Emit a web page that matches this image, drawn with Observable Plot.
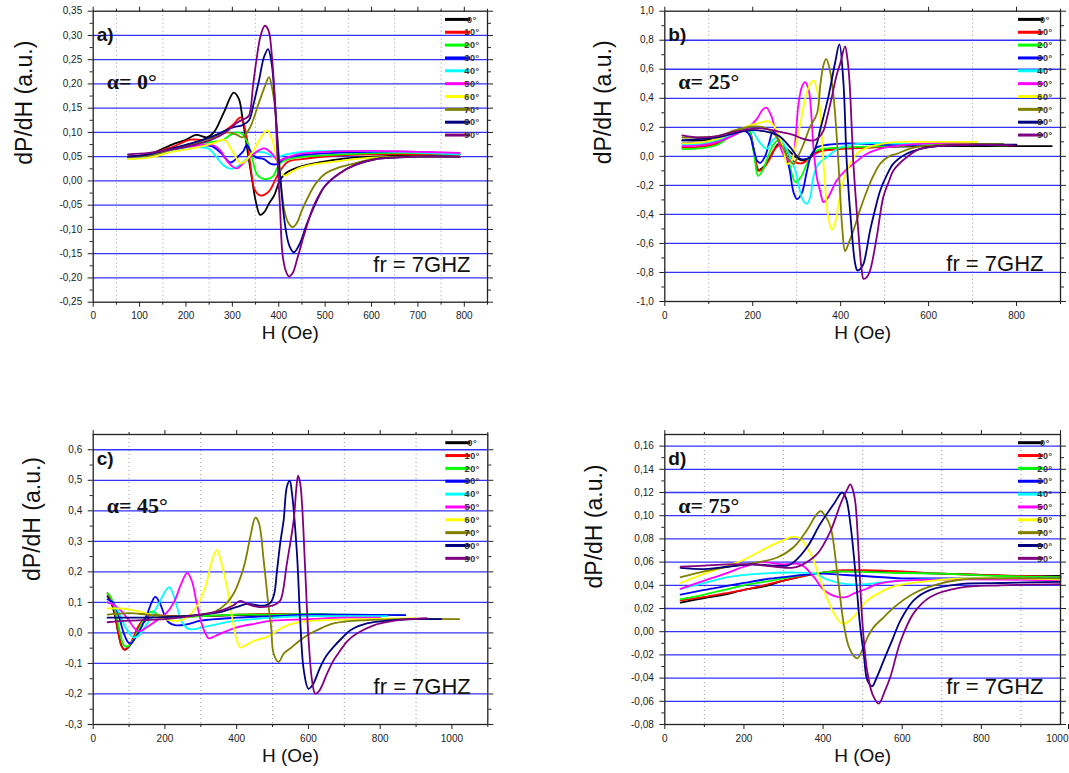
<!DOCTYPE html>
<html><head><meta charset="utf-8">
<script src="https://cdn.jsdelivr.net/npm/d3@7"></script>
<script src="https://cdn.jsdelivr.net/npm/@observablehq/plot@0.6"></script>
<style>
body{margin:0;background:#fff;}
#wrap{position:relative;width:1069px;height:773px;overflow:hidden;background:#fff;}
.panel{position:absolute;}
</style></head><body><div id="wrap"></div>
<script>
// ---------- series labels & colours ----------
const angles = [0,10,20,30,40,50,60,70,80,90];
const colors = ["#000000","#ff0000","#00ff00","#0000ff","#00ffff","#ff00ff","#ffff00","#808000","#000080","#800080"];

// ---------- panel a) alpha = 0 ----------
const a_0 = [[75,0.05],[120,0.055],[170,0.075],[200,0.085],[222,0.095],[245,0.09],[260,0.1],[282,0.142],[303,0.182],[314,0.169],[321,0.135],[332,0.066],[343,0.0],[350,-0.04],[360,-0.07],[368,-0.065],[380,-0.045],[390,-0.03],[404,0.004],[418,0.018],[433,0.025],[460,0.033],[490,0.039],[540,0.046],[600,0.05],[700,0.052],[790,0.05]];
const a_10 = [[75,0.05],[120,0.055],[170,0.07],[210,0.085],[240,0.085],[270,0.095],[300,0.115],[318,0.131],[329,0.1],[339,0.032],[347,-0.016],[356,-0.028],[365,-0.03],[375,-0.025],[383,-0.016],[397,0.011],[419,0.039],[450,0.045],[520,0.052],[600,0.055],[700,0.055],[790,0.055]];
const a_20 = [[75,0.045],[120,0.05],[170,0.065],[210,0.075],[250,0.08],[280,0.085],[296,0.095],[310,0.1],[321,0.097],[332,0.08],[342,0.05],[352,0.015],[362,0.006],[375,0.004],[388,0.01],[396,0.025],[406,0.039],[430,0.047],[480,0.052],[560,0.056],[650,0.058],[790,0.055]];
const a_30 = [[75,0.05],[120,0.052],[170,0.065],[220,0.072],[255,0.072],[275,0.058],[296,0.038],[314,0.052],[324,0.062],[331,0.075],[340,0.06],[350,0.049],[368,0.045],[383,0.035],[397,0.035],[410,0.045],[440,0.052],[500,0.057],[600,0.06],[700,0.06],[790,0.055]];
const a_40 = [[75,0.045],[120,0.05],[170,0.063],[220,0.07],[250,0.066],[265,0.05],[280,0.033],[297,0.025],[312,0.03],[330,0.045],[348,0.058],[368,0.059],[385,0.052],[397,0.049],[412,0.054],[450,0.06],[550,0.062],[650,0.06],[790,0.055]];
const a_50 = [[75,0.05],[120,0.052],[170,0.065],[220,0.072],[255,0.075],[272,0.065],[288,0.042],[300,0.03],[310,0.026],[325,0.038],[345,0.055],[368,0.067],[385,0.057],[398,0.042],[412,0.046],[440,0.055],[500,0.06],[600,0.062],[700,0.06],[790,0.058]];
const a_60 = [[75,0.045],[120,0.048],[170,0.06],[224,0.069],[260,0.078],[282,0.085],[298,0.065],[310,0.045],[318,0.036],[332,0.045],[350,0.07],[362,0.09],[375,0.104],[386,0.085],[394,0.055],[401,0.028],[411,0.011],[430,0.02],[448,0.028],[480,0.035],[520,0.04],[600,0.048],[700,0.05],[790,0.05]];
const a_70 = [[75,0.05],[120,0.052],[170,0.065],[220,0.078],[260,0.09],[290,0.1],[310,0.095],[322,0.09],[338,0.11],[355,0.155],[370,0.195],[379,0.214],[386,0.19],[392,0.15],[398,0.08],[404,0.0],[412,-0.06],[420,-0.085],[430,-0.095],[440,-0.085],[450,-0.06],[465,-0.03],[480,-0.005],[500,0.015],[530,0.028],[560,0.035],[600,0.045],[650,0.05],[790,0.05]];
const a_80 = [[75,0.05],[120,0.055],[170,0.067],[220,0.08],[260,0.093],[300,0.11],[322,0.115],[336,0.125],[346,0.16],[358,0.21],[368,0.255],[377,0.272],[385,0.24],[392,0.16],[398,0.07],[404,0.0],[412,-0.08],[420,-0.125],[427,-0.142],[433,-0.147],[445,-0.13],[460,-0.09],[480,-0.045],[500,-0.01],[530,0.015],[565,0.033],[610,0.045],[700,0.05],[790,0.05]];
const a_90 = [[75,0.055],[120,0.058],[170,0.065],[220,0.075],[255,0.085],[285,0.1],[310,0.12],[330,0.13],[336,0.135],[345,0.2],[352,0.25],[361,0.3],[370,0.32],[378,0.31],[385,0.26],[393,0.14],[398,0.03],[403,-0.06],[408,-0.15],[415,-0.185],[422,-0.197],[430,-0.19],[440,-0.16],[455,-0.11],[476,-0.05],[500,-0.01],[530,0.015],[565,0.033],[610,0.045],[700,0.05],[790,0.05]];

// ---------- panel b) alpha = 25 ----------
const b_0 = [[40,0.11],[80,0.11],[120,0.12],[150,0.15],[175,0.18],[192,0.17],[200,0.08],[206,-0.02],[211,-0.095],[222,-0.08],[235,-0.03],[248,0.04],[258,0.085],[270,0.07],[285,0.03],[300,-0.01],[316,-0.03],[332,0.0],[350,0.035],[380,0.05],[430,0.06],[500,0.065],[600,0.07],[700,0.07],[800,0.07],[880,0.07]];
const b_10 = [[40,0.06],[80,0.065],[120,0.09],[150,0.14],[180,0.18],[193,0.17],[202,0.05],[209,-0.06],[214,-0.1],[225,-0.08],[238,-0.02],[250,0.05],[262,0.08],[275,0.05],[288,-0.02],[300,-0.045],[315,-0.045],[330,-0.01],[350,0.03],[380,0.045],[430,0.055],[500,0.065],[600,0.08],[700,0.08],[800,0.075]];
const b_20 = [[40,0.05],[80,0.055],[120,0.08],[150,0.14],[180,0.19],[193,0.17],[200,0.07],[206,-0.05],[212,-0.135],[222,-0.1],[235,0.0],[247,0.08],[258,0.11],[270,0.07],[283,-0.05],[297,-0.178],[310,-0.14],[322,-0.06],[335,0.02],[350,0.045],[400,0.06],[500,0.07],[600,0.08],[700,0.08],[780,0.075]];
const b_30 = [[40,0.09],[80,0.095],[120,0.11],[150,0.15],[175,0.18],[192,0.15],[202,0.05],[210,-0.03],[217,-0.045],[228,0.0],[238,0.1],[246,0.17],[256,0.14],[270,0.06],[283,-0.08],[293,-0.25],[301,-0.295],[312,-0.25],[322,-0.12],[332,0.0],[345,0.06],[370,0.08],[420,0.09],[500,0.08],[600,0.08],[760,0.08]];
const b_40 = [[40,0.08],[80,0.085],[120,0.11],[160,0.16],[185,0.19],[200,0.17],[215,0.1],[232,0.052],[248,0.12],[260,0.13],[272,0.08],[285,0.0],[297,-0.1],[306,-0.22],[314,-0.3],[323,-0.327],[331,-0.28],[338,-0.14],[350,-0.05],[369,-0.005],[399,0.063],[450,0.09],[550,0.085],[700,0.08]];
const b_50 = [[40,0.07],[80,0.075],[120,0.1],[160,0.15],[190,0.2],[210,0.26],[222,0.32],[231,0.335],[242,0.28],[252,0.17],[262,0.07],[272,0.0],[284,-0.035],[292,0.0],[297,0.109],[304,0.36],[312,0.48],[319,0.511],[327,0.46],[333,0.3],[338,0.063],[346,-0.15],[353,-0.235],[361,-0.316],[372,-0.28],[391,-0.166],[410,-0.1],[429,-0.052],[460,0.018],[500,0.06],[600,0.09],[700,0.09]];
const b_60 = [[40,0.09],[80,0.095],[120,0.12],[160,0.17],[190,0.21],[215,0.23],[234,0.242],[248,0.21],[260,0.14],[270,0.05],[278,-0.052],[288,-0.03],[298,0.08],[308,0.22],[318,0.38],[328,0.48],[338,0.523],[346,0.46],[352,0.35],[361,-0.05],[372,-0.42],[380,-0.506],[388,-0.45],[395,-0.33],[405,-0.18],[414,-0.1],[425,-0.03],[437,0.02],[460,0.06],[500,0.09],[540,0.1],[600,0.1],[710,0.1]];
const b_70 = [[40,0.13],[80,0.13],[120,0.14],[160,0.18],[195,0.205],[225,0.2],[250,0.15],[268,0.06],[282,-0.02],[293,-0.052],[303,0.0],[315,0.08],[330,0.2],[346,0.293],[354,0.5],[361,0.63],[367,0.672],[375,0.6],[384,0.408],[395,-0.05],[404,-0.51],[410,-0.653],[418,-0.6],[429,-0.51],[445,-0.36],[460,-0.235],[475,-0.13],[490,-0.05],[510,0.0],[528,0.018],[560,0.055],[600,0.075],[700,0.085],[770,0.085]];
const b_80 = [[40,0.11],[80,0.12],[120,0.13],[160,0.16],[195,0.18],[230,0.17],[260,0.14],[285,0.063],[308,-0.017],[331,-0.006],[345,0.08],[353,0.178],[372,0.41],[387,0.64],[397,0.771],[406,0.52],[414,-0.05],[425,-0.51],[433,-0.74],[438,-0.786],[445,-0.775],[452,-0.74],[467,-0.51],[478,-0.37],[490,-0.235],[505,-0.13],[520,-0.05],[550,0.018],[580,0.05],[620,0.07],[700,0.08],[800,0.08]];
const b_90 = [[40,0.145],[80,0.13],[120,0.14],[160,0.17],[200,0.19],[230,0.19],[260,0.17],[290,0.15],[315,0.12],[338,0.109],[350,0.13],[361,0.178],[370,0.28],[380,0.41],[390,0.55],[399,0.64],[410,0.757],[415,0.68],[420,0.52],[429,-0.05],[440,-0.51],[448,-0.786],[452,-0.844],[460,-0.83],[467,-0.786],[482,-0.557],[497,-0.28],[510,-0.17],[520,-0.097],[550,-0.006],[580,0.052],[620,0.07],[700,0.08],[790,0.075]];

// ---------- panel c) alpha = 45 ----------
const c_0 = [[40,0.12],[50,0.1],[60,0.06],[70,0.0],[80,-0.045],[88,-0.055],[100,-0.045],[112,-0.02],[125,0.01],[140,0.035],[160,0.05],[200,0.055],[300,0.055],[400,0.058],[500,0.06],[600,0.06],[700,0.058],[800,0.056]];
const c_10 = [[40,0.13],[50,0.11],[60,0.07],[70,0.0],[78,-0.04],[86,-0.055],[98,-0.045],[110,-0.02],[125,0.02],[145,0.05],[170,0.06],[200,0.055],[300,0.055],[400,0.06],[500,0.062],[600,0.06],[700,0.058],[800,0.055]];
const c_20 = [[40,0.13],[50,0.115],[62,0.07],[75,0.0],[85,-0.04],[95,-0.045],[108,-0.03],[122,0.0],[140,0.04],[155,0.065],[168,0.07],[185,0.055],[220,0.05],[300,0.055],[400,0.06],[500,0.06],[600,0.062],[700,0.06],[870,0.058]];
const c_30 = [[40,0.11],[55,0.1],[70,0.06],[85,0.0],[97,-0.03],[105,-0.035],[118,-0.015],[135,0.02],[150,0.06],[163,0.1],[173,0.118],[185,0.1],[198,0.06],[210,0.035],[230,0.025],[260,0.028],[300,0.04],[400,0.05],[500,0.055],[600,0.06],[700,0.06],[870,0.058]];
const c_40 = [[40,0.1],[55,0.095],[70,0.07],[85,0.03],[100,0.0],[112,-0.015],[125,-0.01],[145,0.02],[165,0.06],[185,0.1],[200,0.135],[212,0.15],[222,0.13],[235,0.08],[248,0.035],[262,0.015],[280,0.012],[310,0.02],[350,0.03],[400,0.04],[500,0.05],[600,0.055],[700,0.055],[820,0.055]];
const c_50 = [[40,0.1],[60,0.09],[80,0.07],[100,0.04],[115,0.015],[128,0.005],[145,0.015],[170,0.035],[200,0.06],[225,0.1],[245,0.16],[262,0.197],[275,0.17],[288,0.1],[300,0.04],[312,0.0],[322,-0.018],[340,-0.01],[370,0.005],[400,0.018],[450,0.03],[500,0.04],[600,0.045],[700,0.05],[800,0.05]];
const c_60 = [[40,0.08],[80,0.08],[120,0.072],[160,0.06],[200,0.045],[240,0.04],[270,0.06],[295,0.1],[315,0.16],[332,0.24],[345,0.272],[355,0.24],[373,0.15],[392,0.02],[402,-0.03],[410,-0.048],[425,-0.04],[450,-0.025],[485,-0.013],[510,0.005],[531,0.02],[577,0.036],[650,0.042],[750,0.045],[900,0.048]];
const c_70 = [[40,0.06],[100,0.065],[150,0.06],[200,0.055],[250,0.055],[300,0.06],[340,0.07],[370,0.095],[392,0.13],[420,0.217],[438,0.315],[452,0.378],[462,0.36],[475,0.24],[489,0.085],[496,0.02],[503,-0.068],[517,-0.095],[531,-0.068],[550,-0.05],[577,-0.024],[600,-0.005],[624,0.009],[670,0.031],[763,0.042],[850,0.045],[950,0.046],[1020,0.045]];
const c_80 = [[40,0.05],[100,0.05],[200,0.052],[300,0.06],[360,0.07],[400,0.085],[430,0.095],[460,0.09],[480,0.09],[495,0.1],[505,0.13],[512,0.2],[522,0.3],[531,0.37],[540,0.48],[548,0.498],[554,0.458],[568,0.26],[577,0.042],[587,-0.122],[600,-0.183],[612,-0.17],[633,-0.112],[650,-0.075],[670,-0.046],[695,-0.015],[717,0.009],[763,0.031],[820,0.04],[900,0.045],[970,0.045]];
const c_90 = [[40,0.035],[100,0.04],[200,0.045],[300,0.06],[360,0.075],[390,0.09],[410,0.105],[430,0.095],[460,0.085],[490,0.087],[510,0.095],[522,0.107],[540,0.228],[559,0.37],[566,0.47],[571,0.515],[577,0.49],[582,0.425],[591,0.206],[600,-0.013],[610,-0.155],[619,-0.199],[630,-0.19],[652,-0.133],[670,-0.09],[689,-0.057],[710,-0.025],[735,-0.002],[782,0.025],[830,0.038],[880,0.045],[930,0.048]];

// ---------- panel d) alpha = 75 ----------
const d_0 = [[40,0.025],[100,0.029],[150,0.032],[200,0.036],[250,0.039],[300,0.044],[350,0.048],[400,0.051],[450,0.052],[500,0.052],[600,0.051],[700,0.05],[800,0.049],[900,0.048],[1000,0.048]];
const d_10 = [[40,0.027],[100,0.03],[150,0.033],[200,0.036],[250,0.04],[300,0.044],[350,0.048],[400,0.051],[450,0.053],[500,0.053],[600,0.052],[700,0.05],[800,0.049],[900,0.048],[1000,0.047]];
const d_20 = [[40,0.028],[100,0.032],[150,0.036],[200,0.04],[250,0.043],[300,0.046],[350,0.049],[400,0.051],[450,0.052],[550,0.051],[700,0.05],[850,0.048],[1000,0.047]];
const d_30 = [[40,0.032],[100,0.036],[150,0.039],[200,0.042],[250,0.045],[300,0.047],[350,0.049],[400,0.05],[450,0.049],[500,0.048],[600,0.046],[700,0.046],[850,0.046],[1000,0.046]];
const d_40 = [[40,0.037],[100,0.042],[160,0.047],[240,0.05],[330,0.051],[380,0.05],[410,0.045],[460,0.041],[510,0.041],[560,0.043],[650,0.045],[800,0.046],[1000,0.046]];
const d_50 = [[40,0.037],[100,0.044],[160,0.051],[200,0.056],[245,0.06],[300,0.058],[343,0.058],[377,0.047],[402,0.036],[436,0.03],[460,0.03],[478,0.033],[510,0.037],[537,0.041],[596,0.044],[700,0.045],[850,0.045],[1000,0.044]];
const d_60 = [[40,0.042],[100,0.05],[160,0.057],[200,0.062],[267,0.074],[300,0.079],[326,0.082],[343,0.08],[360,0.072],[373,0.064],[402,0.036],[427,0.016],[448,0.007],[465,0.009],[478,0.013],[512,0.027],[545,0.034],[579,0.039],[650,0.043],[750,0.046],[1000,0.045]];
const d_70 = [[40,0.047],[100,0.052],[160,0.056],[220,0.059],[284,0.064],[326,0.073],[360,0.088],[383,0.101],[394,0.104],[405,0.1],[419,0.09],[436,0.05],[452,0.007],[465,-0.013],[478,-0.021],[487,-0.023],[500,-0.015],[515,-0.003],[528,0.004],[555,0.013],[579,0.021],[629,0.033],[680,0.04],[750,0.045],[850,0.046],[1000,0.046]];
const d_80 = [[40,0.055],[100,0.054],[160,0.056],[220,0.058],[280,0.057],[310,0.057],[326,0.06],[360,0.073],[393,0.093],[427,0.11],[448,0.12],[458,0.115],[469,0.093],[482,0.05],[493,0.007],[503,-0.02],[512,-0.042],[524,-0.047],[535,-0.04],[553,-0.025],[575,-0.007],[596,0.01],[629,0.027],[671,0.036],[747,0.041],[850,0.042],[1000,0.043]];
const d_90 = [[40,0.056],[100,0.057],[160,0.058],[220,0.058],[280,0.056],[320,0.055],[343,0.057],[385,0.067],[419,0.087],[444,0.11],[460,0.122],[469,0.127],[477,0.12],[482,0.11],[490,0.067],[499,0.01],[511,-0.033],[525,-0.054],[541,-0.062],[555,-0.052],[570,-0.039],[596,-0.008],[629,0.016],[671,0.03],[747,0.038],[850,0.04],[1000,0.041]];

// ---------- ticks & texts ----------
const aYTicks = [-0.25,-0.20,-0.15,-0.10,-0.05,0,0.05,0.10,0.15,0.20,0.25,0.30,0.35];
const aXTicks = [0,100,200,300,400,500,600,700,800];
const bYTicks = [-1,-0.8,-0.6,-0.4,-0.2,0,0.2,0.4,0.6,0.8,1];
const bXTicks = [0,200,400,600,800];
const cYTicks = [-0.3,-0.2,-0.1,0,0.1,0.2,0.3,0.4,0.5,0.6];
const cXTicks = [0,200,400,600,800,1000];
const dYTicks = [-0.08,-0.06,-0.04,-0.02,0,0.02,0.04,0.06,0.08,0.10,0.12,0.14,0.16];
const dXTicks = [0,200,400,600,800,1000];
const panelTags = ["a)","b)","c)","d)"];
const alphaTexts = ["α= 0°","α= 25°","α= 45°","α= 75°"];
const freqText = "fr = 7GHZ";
const yTitle = "dP/dH (a.u.)";
const xTitle = "H (Oe)";

// ---------- layout ----------
const panels = [
  {series:[a_0,a_10,a_20,a_30,a_40,a_50,a_60,a_70,a_80,a_90], xDomain:[0,850], yDomain:[-0.25,0.35], xTicks:aXTicks, yTicks:aYTicks, dec:2,
   left:0, top:0, w:500, h:355, ml:92.7, mt:10.7, mr:13, mb:53.3, ylabDx:-68.7, ylabDy:8, edgeShift:0},
  {series:[b_0,b_10,b_20,b_30,b_40,b_50,b_60,b_70,b_80,b_90], xDomain:[0,900], yDomain:[-1,1], xTicks:bXTicks, yTicks:bYTicks, dec:1,
   left:560, top:0, w:509, h:355, ml:104.3, mt:10.7, mr:9, mb:54, ylabDx:-61.3, ylabDy:8, edgeShift:0},
  {series:[c_0,c_10,c_20,c_30,c_40,c_50,c_60,c_70,c_80,c_90], xDomain:[0,1100], yDomain:[-0.3,0.65], xTicks:cXTicks, yTicks:cYTicks, dec:1,
   left:0, top:420, w:500, h:353, ml:92.7, mt:14, mr:12.7, mb:49, ylabDx:-61, ylabDy:1.5, edgeShift:0},
  {series:[d_0,d_10,d_20,d_30,d_40,d_50,d_60,d_70,d_80,d_90], xDomain:[0,1000], yDomain:[-0.08,0.17], xTicks:dXTicks, yTicks:dYTicks, dec:2,
   left:560, top:420, w:509, h:353, ml:104.3, mt:14, mr:9, mb:49, ylabDx:-70.3, ylabDy:9, edgeShift:-4}
];

function mids(t){const m=[];for(let i=0;i<t.length-1;i++)m.push((t[i]+t[i+1])/2);return m;}

const wrap = document.getElementById("wrap");
const SANS = "'Liberation Sans', Arial, sans-serif";

panels.forEach((p, k) => {
  const rows = p.series.flatMap((pts, i) => pts.map(([H, v]) => ({H, v, angle: angles[i]})));
  const xMinor = mids(p.xTicks).concat([p.xTicks[p.xTicks.length-1] + (p.xTicks[1]-p.xTicks[0])/2]).filter(v => v <= p.xDomain[1]);
  const yMinor = mids(p.yTicks);
  const xGrid = xMinor.filter(v => v > p.xDomain[0] && v < p.xDomain[1]);
  const yGrid = p.yTicks.filter(v => v > p.yDomain[0] && v < p.yDomain[1]);
  const fmt = v => v.toFixed(p.dec).replace(".", ",");
  const blank = () => "";
  // x tick labels: the one sitting on the right frame edge may be nudged so it stays in the picture
  const xLabIn = p.edgeShift ? p.xTicks.filter(v => v < p.xDomain[1]) : p.xTicks;
  const xLabEdge = p.edgeShift ? p.xTicks.filter(v => v >= p.xDomain[1]) : [];
  const plot = Plot.plot({
    width: p.w, height: p.h,
    marginLeft: p.ml, marginRight: p.mr, marginTop: p.mt, marginBottom: p.mb,
    x: {domain: p.xDomain},
    y: {domain: p.yDomain},
    color: {domain: angles, range: colors},
    style: {fontFamily: SANS, background: "transparent", color: "#222"},
    marks: [
      Plot.ruleX(xGrid, {stroke: "#9a9a9a", strokeDasharray: "1,3", strokeWidth: 1}),
      Plot.ruleY(yGrid, {stroke: "#3333ff", strokeWidth: 1.3}),
      Plot.line(rows, {x: "H", y: "v", z: "angle", stroke: "angle", strokeWidth: 1.8, curve: "catmull-rom"}),
      Plot.frame({stroke: "#222", strokeWidth: 1.3}),
      Plot.axisY({ticks: p.yTicks, anchor: "left", tickSize: 5, tickPadding: 6, tickFormat: fmt, fontSize: 10, label: null}),
      Plot.axisY({ticks: yMinor, anchor: "left", tickSize: 3, tickFormat: blank, label: null}),
      Plot.axisY({ticks: p.yTicks, anchor: "right", tickSize: 5, tickFormat: blank, label: null}),
      Plot.axisY({ticks: yMinor, anchor: "right", tickSize: 3, tickFormat: blank, label: null}),
      Plot.axisX({ticks: xLabIn, anchor: "bottom", tickSize: 5, tickPadding: 5, tickFormat: d => String(d), fontSize: 10, label: null}),
      ...(xLabEdge.length ? [Plot.axisX({ticks: xLabEdge, anchor: "bottom", tickSize: 5, tickPadding: 5, tickFormat: d => String(d), fontSize: 10, label: null, textAnchor: "end", dx: 8})] : []),
      Plot.axisX({ticks: xMinor, anchor: "bottom", tickSize: 3, tickFormat: blank, label: null}),
      Plot.axisX({ticks: p.xTicks, anchor: "top", tickSize: 5, tickFormat: blank, label: null}),
      Plot.axisX({ticks: xMinor, anchor: "top", tickSize: 3, tickFormat: blank, label: null}),
      Plot.text([yTitle], {frameAnchor: "left", rotate: -90, dx: p.ylabDx, dy: p.ylabDy, fontSize: 23, fill: "#111"}),
      Plot.text([xTitle], {frameAnchor: "bottom", dy: 37, fontSize: 19, fill: "#111"}),
      Plot.text([panelTags[k]], {frameAnchor: "top-left", dx: 3.5, dy: 16.5, textAnchor: "start", fontSize: 19, fontWeight: "bold", fill: "#111"}),
      Plot.text([alphaTexts[k]], {frameAnchor: "top-left", dx: 13.5, dy: 62.5, textAnchor: "start", fontSize: 22, fontWeight: "bold", fontFamily: "'Liberation Serif', 'Times New Roman', serif", fill: "#111"}),
      Plot.text([freqText], {frameAnchor: "bottom-right", dx: -17, dy: -30.5, textAnchor: "end", fontSize: 22, fill: "#111"})
    ]
  });
  // in-plot legend (top-right)
  const svg = d3.select(plot);
  const g = svg.append("g");
  const xr = p.w - p.mr;
  angles.forEach((a, i) => {
    const y = p.mt + 8.7 + i * 12.85;
    g.append("line").attr("x1", xr - 42).attr("x2", xr - 17).attr("y1", y).attr("y2", y)
      .attr("stroke", colors[i]).attr("stroke-width", 3);
    g.append("text").attr("x", xr - 15).attr("y", y).attr("dy", "0.35em")
      .attr("font-size", 9).attr("font-weight", "bold").attr("letter-spacing", "0.6px")
      .attr("font-family", SANS).attr("fill", "#333").text(a + "°");
  });
  const div = document.createElement("div");
  div.className = "panel";
  div.style.left = p.left + "px";
  div.style.top = p.top + "px";
  div.appendChild(plot);
  wrap.appendChild(div);
});
</script></body></html>
